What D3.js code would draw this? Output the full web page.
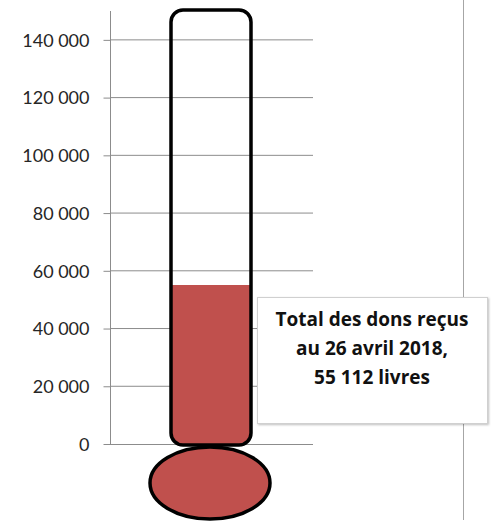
<!DOCTYPE html>
<html>
<head>
<meta charset="utf-8">
<script src="https://cdn.jsdelivr.net/npm/d3@7"></script>
<style>
  body { margin: 0; background: #fff; }
  svg { display: block; }
</style>
</head>
<body>
<svg id="chart" width="494" height="523"></svg>
<script>
// donations thermometer
var tickValues = [0, 20000, 40000, 60000, 80000, 100000, 120000, 140000];
var axisMax = 150000;
var totalRecu = 55112;
var labelLines = ["Total des dons reçus", "au 26 avril 2018,", "55 112 livres"];

var fr = d3.formatLocale({decimal: ",", thousands: " ", grouping: [3], currency: ["", " €"]});
var fmt = fr.format(",d");

var svg = d3.select("#chart");

var y = d3.scaleLinear().domain([0, axisMax]).range([444, 11]);
var tubeLeft = 171, tubeRight = 251;

// gridlines
svg.append("g")
    .selectAll("line")
    .data(tickValues.slice(1))
    .join("line")
    .attr("x1", 110).attr("x2", 313)
    .attr("y1", function(d){ return y(d); })
    .attr("y2", function(d){ return y(d); })
    .attr("stroke", "#8c8c8c")
    .attr("stroke-width", 1);

// y axis
var yAxis = d3.axisLeft(y).tickValues(tickValues).tickFormat(fmt).tickSize(7).tickPadding(14);
var gAxis = svg.append("g")
    .attr("transform", "translate(110.5,0)")
    .call(yAxis);
gAxis.select(".domain").attr("stroke", "#8c8c8c").attr("d", "M0," + y(axisMax) + "V" + y(0));
gAxis.selectAll(".tick line").attr("stroke", "#8c8c8c");
gAxis.selectAll(".tick text")
    .attr("fill", "#262626")
    .style("font-family", "Lato, 'Open Sans', sans-serif")
    .style("font-size", "18px")
    .attr("dy", "0.35em");
// baseline
svg.append("line")
    .attr("x1", 110).attr("x2", 313)
    .attr("y1", y(0) + 0.5).attr("y2", y(0) + 0.5)
    .attr("stroke", "#8c8c8c");

// right border line
svg.append("line")
    .attr("x1", 463.5).attr("x2", 463.5)
    .attr("y1", 0).attr("y2", 520)
    .attr("stroke", "#a6a6a6");

// red fill inside tube
var r = 12;
var topFill = y(totalRecu);
var bottomTube = y(0) + 1;
svg.append("path")
    .attr("d", "M" + tubeLeft + "," + topFill +
        "H" + tubeRight +
        "V" + (bottomTube - r) +
        "Q" + tubeRight + "," + bottomTube + " " + (tubeRight - r) + "," + bottomTube +
        "H" + (tubeLeft + r) +
        "Q" + tubeLeft + "," + bottomTube + " " + tubeLeft + "," + (bottomTube - r) + "Z")
    .attr("fill", "#c0504d");

// tube outline
svg.append("rect")
    .attr("x", tubeLeft).attr("y", 10)
    .attr("width", tubeRight - tubeLeft)
    .attr("height", bottomTube - 10)
    .attr("rx", r).attr("ry", r)
    .attr("fill", "none")
    .attr("stroke", "#000")
    .attr("stroke-width", 3.5);

// bulb
svg.append("ellipse")
    .attr("cx", 210).attr("cy", 483)
    .attr("rx", 60).attr("ry", 36)
    .attr("fill", "#c0504d")
    .attr("stroke", "#000")
    .attr("stroke-width", 3.5);

// label box
var defs = svg.append("defs");
var f = defs.append("filter").attr("id", "shadow").attr("x", "-10%").attr("y", "-10%").attr("width", "120%").attr("height", "130%");
f.append("feDropShadow").attr("dx", 1).attr("dy", 1).attr("stdDeviation", 1.2).attr("flood-color", "#000").attr("flood-opacity", 0.25);

svg.append("rect")
    .attr("x", 257.5).attr("y", 297.5)
    .attr("width", 230).attr("height", 126)
    .attr("fill", "#fff")
    .attr("stroke", "#d0d0d0")
    .attr("filter", "url(#shadow)");

svg.append("g")
    .selectAll("text")
    .data(labelLines)
    .join("text")
    .attr("x", 372)
    .attr("y", function(d, i){ return 326 + i * 29; })
    .attr("text-anchor", "middle")
    .attr("fill", "#111")
    .style("font-family", "'Open Sans', Lato, sans-serif")
    .style("font-weight", "bold")
    .style("font-size", "19px")
    .text(function(d){ return d; });
</script>
</body>
</html>
